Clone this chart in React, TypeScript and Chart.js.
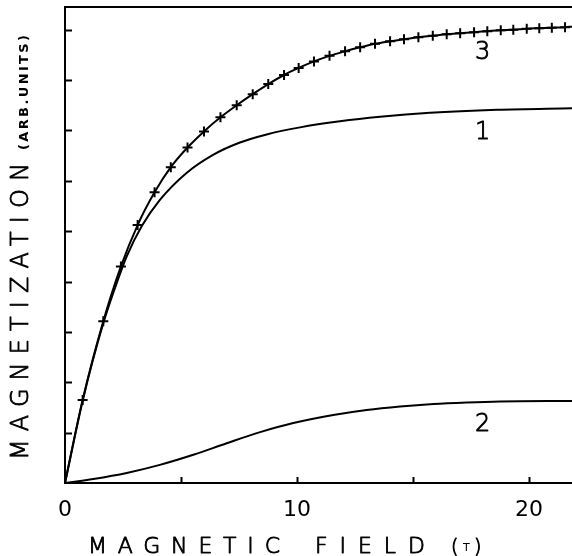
import React, { useEffect, useRef } from "react";
import { Chart, registerables } from "chart.js";

Chart.register(...registerables);

// Curve 3 (measured points, "+" markers; last entry is the line's end at the frame edge)
const field3 = [0, 0.76, 1.65, 2.41, 3.13, 3.86, 4.56, 5.28, 5.99, 6.70, 7.40, 8.09, 8.76, 9.44, 10.07, 10.73, 11.40, 12.07, 12.72, 13.36, 14.01, 14.61, 15.23, 15.85, 16.45, 17.03, 17.63, 18.20, 18.78, 19.32, 19.90, 20.44, 20.98, 21.55, 21.85];
const mag3 = [0, 1.65, 3.21, 4.30, 5.12, 5.77, 6.27, 6.66, 6.98, 7.26, 7.50, 7.72, 7.92, 8.10, 8.24, 8.37, 8.48, 8.57, 8.65, 8.72, 8.77, 8.81, 8.85, 8.88, 8.91, 8.93, 8.95, 8.97, 8.99, 9.00, 9.02, 9.03, 9.04, 9.05, 9.06];

// Curve 1
const field1 = [0, 0.76, 1.65, 2.41, 2.66, 3.31, 4.09, 5.25, 6.40, 7.54, 8.69, 10.13, 11.85, 13.58, 15.73, 18.62, 21.85];
const mag1 = [0, 1.63, 3.17, 4.20, 4.50, 5.10, 5.62, 6.16, 6.52, 6.76, 6.92, 7.06, 7.18, 7.27, 7.35, 7.41, 7.44];

// Curve 2
const field2 = [0, 1.22, 2.66, 4.09, 5.53, 6.97, 8.41, 9.84, 11.56, 13.0, 14.44, 15.88, 17.31, 18.75, 21.85];
const mag2 = [0, 0.08, 0.20, 0.36, 0.56, 0.79, 1.01, 1.19, 1.35, 1.45, 1.52, 1.57, 1.60, 1.62, 1.63];

// Ticks and labels
const xTickValues = [5, 10, 15, 20];
const xTickLabels = ["0", "10", "20"];
const yTickValues = [1, 2, 3, 4, 5, 6, 7, 8, 9];
const curveNames = ["1", "2", "3"];
const curveLabelX = [18.0, 18.0, 18.0];
const curveLabelY = [6.95, 1.16, 8.54];

const FONT = "'DejaVu Sans', sans-serif";

function toXY(xs: number[], ys: number[]) {
  return xs.map((x, i) => ({ x, y: ys[i] }));
}

function drawText(ctx: CanvasRenderingContext2D, text: string, x: number, y: number) {
  ctx.fillText(text, x, y);
  ctx.strokeText(text, x, y);
}

function spacedText(ctx: CanvasRenderingContext2D, text: string, x: number, y: number, target: number) {
  (ctx as any).letterSpacing = "0px";
  const w0 = ctx.measureText(text).width;
  const ls = text.length > 1 ? (target - w0) / (text.length - 1) : 0;
  (ctx as any).letterSpacing = ls + "px";
  drawText(ctx, text, x, y);
  (ctx as any).letterSpacing = "0px";
}

const decorPlugin = {
  id: "decor",
  afterDraw(chart: any) {
    const ctx: CanvasRenderingContext2D = chart.ctx;
    const xs = chart.scales.x;
    const ys = chart.scales.y;
    const area = chart.chartArea;
    ctx.save();
    ctx.strokeStyle = "#000";
    ctx.fillStyle = "#000";
    ctx.lineWidth = 2;
    // top border
    ctx.beginPath();
    ctx.moveTo(area.left, area.top);
    ctx.lineTo(area.right, area.top);
    ctx.stroke();
    // inner ticks
    ctx.beginPath();
    xTickValues.forEach((v) => {
      const px = Math.round(xs.getPixelForValue(v)) + 0.5;
      ctx.moveTo(px, area.bottom);
      ctx.lineTo(px, area.bottom - 6);
    });
    yTickValues.forEach((v) => {
      const py = Math.round(ys.getPixelForValue(v)) + 0.5;
      ctx.moveTo(area.left, py);
      ctx.lineTo(area.left + 7, py);
    });
    ctx.stroke();
    ctx.lineWidth = 0.9;
    ctx.lineJoin = "round";
    // curve labels
    ctx.font = `200 24px ${FONT}`;
    ctx.textAlign = "center";
    ctx.textBaseline = "middle";
    curveNames.forEach((n, i) => {
      drawText(ctx, n, xs.getPixelForValue(curveLabelX[i]), ys.getPixelForValue(curveLabelY[i]));
    });
    // x axis title
    ctx.textAlign = "left";
    ctx.textBaseline = "alphabetic";
    ctx.font = `200 22px ${FONT}`;
    spacedText(ctx, "MAGNETIC", 88, 553, 192);
    spacedText(ctx, "FIELD", 315, 553, 110);
    ctx.font = `200 19px ${FONT}`;
    drawText(ctx, "(", 451, 553);
    drawText(ctx, ")", 474, 553);
    ctx.font = `11px ${FONT}`;
    ctx.fillText("T", 463, 551);
    // y axis title
    ctx.translate(28, 460);
    ctx.rotate(-Math.PI / 2);
    ctx.font = `200 24px ${FONT}`;
    spacedText(ctx, "MAGNETIZATION", 0, 0, 297);
    ctx.font = `bold 13px ${FONT}`;
    (ctx as any).letterSpacing = "0px";
    const w0 = ctx.measureText("(ARB.UNITS)").width;
    (ctx as any).letterSpacing = (115 - w0) / 10 + "px";
    ctx.fillText("(ARB.UNITS)", 310, 0);
    ctx.restore();
  },
};

export default function App() {
  const ref = useRef<HTMLCanvasElement | null>(null);
  useEffect(() => {
    if (!ref.current) return;
    const lineStyle = {
      borderColor: "#000",
      backgroundColor: "#000",
      borderWidth: 2,
      showLine: true,
      fill: false,
      cubicInterpolationMode: "monotone" as const,
    };
    const last3 = field3.length - 1;
    const chart = new Chart(ref.current, {
      type: "scatter",
      data: {
        datasets: [
          { ...lineStyle, label: "1", data: toXY(field1, mag1), pointRadius: 0 },
          { ...lineStyle, label: "2", data: toXY(field2, mag2), pointRadius: 0 },
          {
            ...lineStyle,
            label: "3",
            data: toXY(field3, mag3),
            pointStyle: "cross",
            pointRadius: (c: any) => (c.dataIndex === 0 || c.dataIndex === last3 ? 0 : 5),
            pointBorderWidth: 2,
            pointBorderColor: "#000",
          },
        ],
      },
      options: {
        animation: false,
        responsive: false,
        maintainAspectRatio: false,
        layout: { padding: { top: 7, right: 0, left: 0, bottom: 0 } },
        plugins: { legend: { display: false }, tooltip: { enabled: false }, title: { display: false } },
        scales: {
          x: {
            type: "linear",
            min: 0,
            max: 21.85,
            grid: { display: false },
            border: { display: true, color: "#000", width: 2 },
            ticks: {
              stepSize: 10,
              includeBounds: false,
              color: "#000",
              font: { family: FONT, size: 22 },
              padding: 6,
              maxRotation: 0,
              autoSkip: false,
              callback: (v: any) => {
                const s = String(v);
                return xTickLabels.includes(s) ? s : "";
              },
            },
            afterFit: (s: any) => {
              s.height = 73;
              s.paddingLeft = 0;
              s.paddingRight = 0;
            },
          },
          y: {
            type: "linear",
            min: 0,
            max: 9.45,
            grid: { display: false },
            border: { display: true, color: "#000", width: 2 },
            ticks: { display: false },
            afterFit: (s: any) => {
              s.width = 65;
              s.paddingTop = 0;
              s.paddingBottom = 0;
            },
          },
        },
      },
      plugins: [decorPlugin],
    });
    return () => chart.destroy();
  }, []);
  return (
    <div style={{ position: "fixed", left: 0, top: 0, width: 572, height: 556, background: "#fff" }}>
      <canvas ref={ref} width={572} height={556} style={{ width: 572, height: 556, display: "block" }} />
    </div>
  );
}
